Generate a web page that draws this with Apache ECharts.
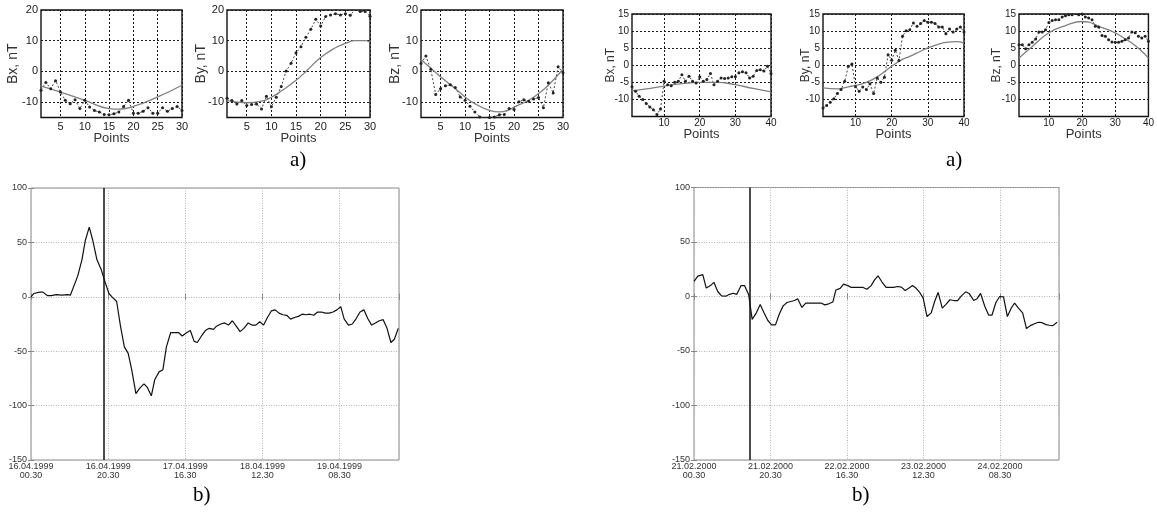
<!DOCTYPE html>
<html>
<head>
<meta charset="utf-8">
<script src="https://cdn.jsdelivr.net/npm/echarts@6/dist/echarts.min.js"></script>
<style>
  html, body { margin: 0; padding: 0; background: #fff; }
  #chart { width: 1157px; height: 514px; }
</style>
</head>
<body>
<div id="chart"></div>
<script>
// ---- top panels, event 1 (30 points) ----
const bxA = [-6.1, -3.6, -5.6, -3.0, -6.7, -9.4, -10.5, -9.2, -12.1, -9.4, -11.6, -12.7, -13.2, -14, -14.1, -13.8, -13.2, -11.4, -9.4, -13.6, -13.6, -13, -11.8, -13.6, -13.6, -11.8, -13, -12.1, -11.4, -12.7]
const bxAFitX = [1, 5, 10, 15, 17, 20, 25, 30]
const bxAFit = [-4.8, -6.7, -9.4, -12.1, -12.3, -11.4, -8.3, -4.5]
const byA = [-8.7, -9.5, -10.6, -9.5, -11.1, -10.8, -10.6, -12.2, -8.1, -11.5, -8.4, -4.9, 0.1, 2.7, 6.1, 8, 11.1, 13.7, 17, 14.8, 17.9, 18.4, 18.8, 18.4, 18.8, 18.3, 20.3, 19.5, 19.5, 18]
const byAFitX = [1, 5, 8, 10, 12, 15, 17, 20, 23, 25, 27, 29, 30]
const byAFit = [-9.5, -10.2, -9.7, -8.4, -6.4, -2.9, 0, 4.5, 7.7, 9.1, 10, 10, 9.5]
const bzA = [2.6, 5, 0.7, -7.5, -5.6, -4.7, -4.3, -5.2, -8.3, -9.4, -11.3, -13.2, -14.8, -15.2, -15, -14.8, -14.1, -14, -12.1, -12.4, -9.9, -9.2, -9.7, -9, -8.5, -11.8, -3.7, -7, 1.5, -0.4]
const bzAFitX = [1, 5, 8, 10, 12, 15, 17, 19, 20, 23, 25, 27, 30]
const bzAFit = [3.9, -1.7, -5.6, -8.3, -10.5, -12.7, -13.2, -12.5, -11.6, -9.4, -7.2, -4.5, 0.7]

// ---- top panels, event 2 (40 points) ----
const bxB = [-6.3, -7.6, -9.1, -10, -11.2, -12.2, -13, -14.4, -12.8, -4.7, -5.7, -6, -5, -4.7, -2.8, -4.7, -3.2, -4.7, -5.2, -3.4, -4.7, -4.2, -2.4, -5.7, -4.7, -3.7, -3.9, -3.7, -3.4, -3.4, -2.2, -1.9, -2.2, -3.7, -3.2, -1.5, -1.3, -1.7, -0.3, -2.4]
const bxBFitX = [1, 5, 10, 15, 20, 25, 30, 35, 40]
const bxBFit = [-7.5, -6.9, -6.1, -5.4, -5, -5, -5.7, -6.8, -7.8]
const byB = [-12.5, -11.8, -10.8, -9.8, -8.3, -7.1, -4.7, -0.3, 0.4, -6.3, -7.6, -6.4, -7.1, -5.4, -8.3, -3.7, -5, -3.5, 3.1, 1.5, 4.4, 1.4, 8.5, 10.1, 10.4, 12.4, 11.4, 12.2, 13.1, 12.6, 12.6, 12.2, 11.2, 11.2, 9.2, 10.6, 9.7, 10.6, 11.2, 9.7]
const byBFitX = [1, 5, 8, 10, 13, 16, 20, 23, 25, 28, 30, 33, 35, 38, 40]
const byBFit = [-6.6, -6.9, -6.3, -5.9, -5, -3.4, -0.3, 1.7, 2.6, 4.1, 5.1, 6.2, 6.7, 6.9, 6.5]
const bzB = [6, 6, 4.8, 6, 6.7, 7.7, 9.7, 9.7, 10.4, 12.5, 13.1, 13.3, 13.3, 14.1, 14.5, 14.8, 14.8, 15.2, 14.8, 15, 14.1, 13.8, 13.3, 11.4, 11.2, 8.7, 8.5, 7.5, 6.8, 6.7, 6.7, 7, 7.5, 8, 9.7, 9.5, 8.5, 8, 8.5, 7]
const bzBFitX = [1, 5, 10, 15, 20, 22, 25, 30, 33, 35, 38, 40]
const bzBFit = [2.1, 5.5, 9.5, 11.6, 12.8, 12.6, 11.4, 9.5, 7.7, 6.5, 4.1, 2.1]

// ---- bottom panels: index vs hours from start ----
const hours1 = [0, 0.7, 2.3, 3.1, 4.3, 5.2, 6.6, 8, 9.4, 10.2, 12.1, 13.2, 14.1, 15.1, 16, 17.1, 18.2, 19.3, 20.2, 21, 22.2, 23.2, 24.2, 25.2, 26.1, 27.2, 28.2, 29.3, 30.1, 31.2, 32.1, 33.2, 34.2, 35.1, 36.2, 37.2, 38.3, 39.2, 40.3, 41.3, 42.3, 43.1, 44.2, 45.2, 46.2, 47.3, 48.1, 49.2, 50.2, 51.2, 52.2, 53.2, 54.2, 55.2, 56.3, 57.3, 58.3, 59.3, 60.3, 61.3, 62.3, 63.3, 64.3, 65.3, 66.3, 67.3, 68.3, 69.3, 70.3, 71.3, 72.3, 73.3, 74.3, 75.3, 76.3, 77.3, 78.3, 79.3, 80.3, 81.2, 82.3, 83.3, 84.3, 85.3, 86.3, 87.3, 88.3, 89.3, 90.3, 91.3, 92.3, 93.3, 94.2, 95.2]
const dst1 = [0, 3, 4.3, 4.3, 1, 1, 2, 1.5, 2, 1.5, 19, 34, 52, 64, 52, 34, 25, 12.6, 3, 0, -4.3, -27, -46, -52, -67, -89, -84, -80, -83, -91, -76, -69, -67, -46, -33, -33, -33, -36, -33, -31, -41, -42, -36, -31, -29, -30, -27, -25, -24, -26, -22, -27, -32, -29, -24, -26, -26, -23, -26, -19, -13, -12, -15, -16.5, -17, -20.5, -19, -18, -16, -16.5, -16, -17, -14, -14, -15, -15, -14, -12, -9, -20.5, -26, -25, -20, -14, -12, -20, -26, -24, -22, -21, -29, -42, -39, -29]
const hours2 = [0, 1, 2.3, 3.2, 4.3, 5.2, 6.2, 7.2, 8.3, 9.3, 10.3, 11.2, 12.3, 13.2, 14.3, 15.2, 16.3, 17.3, 18.3, 19.3, 20.3, 21.3, 22.3, 23.3, 24.3, 25.3, 26.3, 27.1, 28.2, 29.2, 30.2, 31.2, 32.3, 33.2, 34.2, 35.2, 36.3, 37.1, 38.2, 39.1, 40.2, 41.1, 42.2, 43.2, 44.2, 45.2, 46.3, 47.2, 48.1, 49.1, 50.2, 51.2, 52.2, 53.2, 54.2, 55.2, 56.2, 57.1, 58, 59, 59.9, 60.9, 62, 62.9, 63.8, 64.9, 65.8, 66.9, 67.9, 68.9, 69.9, 71, 71.9, 73.1, 74, 74.9, 76, 77, 77.9, 78.9, 79.9, 80.9, 81.9, 82.9, 83.8, 84.8, 85.9, 86.9, 87.9, 89, 90, 91, 92, 92.9, 93.8, 94.9]
const dst2 = [13.8, 18.7, 20, 7.7, 10, 13, 4.6, 0.6, 0.3, 2, 3, 2, 10, 10, 1.5, -21, -15, -7.4, -15, -22, -26, -26, -16, -8.6, -5.5, -4.6, -3.7, -2, -10, -6, -6, -6, -6, -6, -7.7, -6.7, -5, 6, 7.4, 11.3, 10, 8.3, 8.3, 8.3, 8.3, 6.7, 10, 15.3, 19, 13.5, 8.3, 8.3, 8.3, 9.2, 8.6, 5.5, 7.7, 10, 7.7, 3.7, -1.5, -18.4, -15, -4.6, 3.7, -10.7, -7.4, -3, -3.7, -3.7, 0.6, 4.3, 2.8, -3.7, -2, 2.8, -9, -17, -17, -5.5, 0, -0.3, -18.4, -10.7, -6, -10.7, -15, -29.4, -26.7, -25, -23.6, -24, -25.8, -26.4, -26.7, -23.6]
const eventHour1 = 18.9
const eventHour2 = 14.7
const timeLabels1 = ['16.04.1999\n00.30', '16.04.1999\n20.30', '17.04.1999\n16.30', '18.04.1999\n12.30', '19.04.1999\n08.30']
const timeLabels2 = ['21.02.2000\n00.30', '21.02.2000\n20.30', '22.02.2000\n16.30', '23.02.2000\n12.30', '24.02.2000\n08.30']

const ticksA = [5, 10, 15, 20, 25, 30]
const ticksB = [10, 20, 30, 40]
const yTicksA = [-10, 0, 10, 20]
const yTicksB = [-10, -5, 0, 5, 10, 15]

const FONT = 'Liberation Sans, Arial, sans-serif'
const grid = [], xAxis = [], yAxis = [], series = []

const pair = (xs, ys) => ys.map((v, i) => [xs[i], v])
const idx = arr => arr.map((v, i) => [i + 1, v])

// 小面板：点 + 拟合曲线
function topPanel(box, opt) {
  const gi = grid.length
  grid.push({ ...box, show: true, borderColor: '#111', borderWidth: 1.4, backgroundColor: '#fff' })
  xAxis.push({
    type: 'value', gridIndex: gi, min: 1, max: opt.xMax,
    axisLine: { show: false },
    axisTick: { show: false, customValues: opt.xTicks },
    axisLabel: { customValues: opt.xTicks, fontSize: opt.tickFont, color: '#1a1a1a', margin: opt.xMargin, fontFamily: FONT },
    splitLine: { show: true, lineStyle: { color: '#1a1a1a', type: [2, 2], width: 1 } },
    name: 'Points', nameLocation: 'middle', nameGap: opt.pointsGap, nameMoveOverlap: false,
    nameTextStyle: { fontSize: 13, color: '#333', fontFamily: FONT }
  })
  yAxis.push({
    type: 'value', gridIndex: gi, min: opt.yMin, max: opt.yMax,
    axisLine: { show: false },
    axisTick: { show: false, customValues: opt.yTicks },
    axisLabel: { customValues: opt.yTicks, fontSize: opt.tickFont, color: '#1a1a1a', margin: 3, fontFamily: FONT },
    splitLine: { show: true, lineStyle: { color: '#1a1a1a', type: [2, 2], width: 1 } },
    name: opt.name, nameLocation: 'middle', nameGap: opt.nameGap, nameRotate: 90, nameMoveOverlap: false,
    nameTextStyle: { fontSize: opt.nameFont, color: '#333', fontFamily: FONT }
  })
  series.push({
    type: 'line', xAxisIndex: gi, yAxisIndex: gi, data: idx(opt.pts),
    symbol: 'circle', symbolSize: 3, itemStyle: { color: '#222' },
    lineStyle: { color: '#444', width: 1, type: [2, 2] }, silent: true
  })
  series.push({
    type: 'line', xAxisIndex: gi, yAxisIndex: gi, data: pair(opt.fitX, opt.fit),
    smooth: true, showSymbol: false, lineStyle: { color: '#808080', width: 1.3 }, silent: true
  })
}

// 大面板：时间序列 + 竖线
function bottomPanel(box, hours, vals, labels, eventHour) {
  const gi = grid.length
  grid.push({ ...box, show: true, borderColor: '#8a8a8a', borderWidth: 1, backgroundColor: '#fff' })
  const xi = xAxis.length, yi = yAxis.length
  const split = { show: true, lineStyle: { color: '#b4b4b4', type: [1, 1.5], width: 1 } }
  xAxis.push({
    type: 'value', gridIndex: gi, min: 0, max: 95.4, interval: 20,
    axisLine: { show: false },
    axisTick: { show: true, inside: true, length: 3, lineStyle: { color: '#888' } },
    axisLabel: {
      fontSize: 9, lineHeight: 9, color: '#333', margin: 2, fontFamily: FONT,
      formatter: v => (v % 20 === 0 ? labels[v / 20] : '')
    },
    splitLine: split
  })
  xAxis.push({
    type: 'value', gridIndex: gi, position: 'top', min: 0, max: 95.4, interval: 20,
    axisLine: { show: false }, axisLabel: { show: false }, splitLine: { show: false },
    axisTick: { show: true, inside: true, length: 3, lineStyle: { color: '#888' } }
  })
  yAxis.push({
    type: 'value', gridIndex: gi, min: -150, max: 100, interval: 50,
    axisLine: { show: false },
    axisTick: { show: true, inside: true, length: 3, lineStyle: { color: '#888' } },
    axisLabel: { fontSize: 9, color: '#333', margin: 4, fontFamily: FONT },
    splitLine: split
  })
  yAxis.push({
    type: 'value', gridIndex: gi, position: 'right', min: -150, max: 100, interval: 50,
    axisLine: { show: false }, axisLabel: { show: false }, splitLine: { show: false },
    axisTick: { show: true, inside: true, length: 3, lineStyle: { color: '#888' } }
  })
  series.push({
    type: 'line', xAxisIndex: xi, yAxisIndex: yi, data: pair(hours, vals),
    showSymbol: false, lineStyle: { color: '#111', width: 1.2 }, silent: true,
    markLine: {
      silent: true, symbol: 'none', label: { show: false },
      lineStyle: { color: '#111', type: 'solid', width: 1.5 },
      data: [{ xAxis: eventHour }]
    }
  })
}

const optA = { xMax: 30, xTicks: ticksA, yTicks: yTicksA, yMin: -15, yMax: 20, tickFont: 11, xMargin: 4, pointsGap: 14, nameFont: 14 }
topPanel({ left: 41, top: 10, width: 141, height: 107.5 }, { ...optA, pts: bxA, fitX: bxAFitX, fit: bxAFit, name: 'Bx, nT', nameGap: 21 })
topPanel({ left: 227, top: 10, width: 143, height: 107.5 }, { ...optA, pts: byA, fitX: byAFitX, fit: byAFit, name: 'By, nT', nameGap: 18.5 })
topPanel({ left: 421, top: 10, width: 142, height: 107.5 }, { ...optA, pts: bzA, fitX: bzAFitX, fit: bzAFit, name: 'Bz, nT', nameGap: 18.5 })

const optB = { xMax: 40, xTicks: ticksB, yTicks: yTicksB, yMin: -15, yMax: 15, tickFont: 10, xMargin: 2, pointsGap: 11, nameFont: 12 }
topPanel({ left: 632, top: 14, width: 139, height: 102.5 }, { ...optB, pts: bxB, fitX: bxBFitX, fit: bxBFit, name: 'Bx, nT', nameGap: 15.5 })
topPanel({ left: 823, top: 14, width: 141, height: 102.5 }, { ...optB, pts: byB, fitX: byBFitX, fit: byBFit, name: 'By, nT', nameGap: 11 })
topPanel({ left: 1019, top: 14, width: 139, height: 102.5 }, { ...optB, pts: bzB, fitX: bzBFitX, fit: bzBFit, name: 'Bz, nT', nameGap: 16.5 })

bottomPanel({ left: 31, top: 188, width: 368, height: 272 }, hours1, dst1, timeLabels1, eventHour1)
bottomPanel({ left: 694, top: 187.5, width: 365, height: 272.5 }, hours2, dst2, timeLabels2, eventHour2)

const capStyle = { fontSize: 21, fontFamily: 'Liberation Serif, Times New Roman, serif', fill: '#000' }
const captions = [
  { text: 'a)', x: 300, y: 161 },
  { text: 'a)', x: 956, y: 161 },
  { text: 'b)', x: 203, y: 496 },
  { text: 'b)', x: 862, y: 496 }
]

const myChart = echarts.init(document.getElementById('chart'), null, { renderer: 'canvas' })
myChart.setOption({
  animation: false,
  backgroundColor: '#fff',
  grid, xAxis, yAxis, series,
  graphic: captions.map(c => ({ type: 'text', left: c.x - 10, top: c.y - 11, style: { ...capStyle, text: c.text } }))
})
</script>
</body>
</html>
